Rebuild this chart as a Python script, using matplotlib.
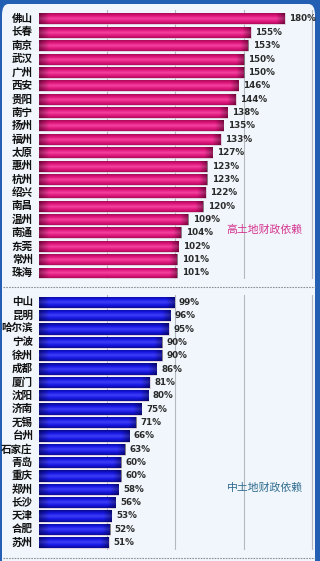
import matplotlib

matplotlib.use("Agg")
import matplotlib.pyplot as plt
import numpy as np
from matplotlib.colors import LinearSegmentedColormap
from matplotlib.patches import FancyBboxPatch

plt.rcParams["font.family"] = ["Noto Sans CJK SC", "DejaVu Sans"]

high_cities = ["佛山", "长春", "南京", "武汉", "广州", "西安", "贵阳", "南宁", "扬州", "福州",
               "太原", "惠州", "杭州", "绍兴", "南昌", "温州", "南通", "东莞", "常州", "珠海"]
high_values = [180, 155, 153, 150, 150, 146, 144, 138, 135, 133,
               127, 123, 123, 122, 120, 109, 104, 102, 101, 101]

mid_cities = ["中山", "昆明", "哈尔滨", "宁波", "徐州", "成都", "厦门", "沈阳", "济南", "无锡",
              "台州", "石家庄", "青岛", "重庆", "郑州", "长沙", "天津", "合肥", "苏州"]
mid_values = [99, 96, 95, 90, 90, 86, 81, 80, 75, 71,
              66, 63, 60, 60, 58, 56, 53, 52, 51]

high_label = "高土地财政依赖"
mid_label = "中土地财政依赖"

W, H = 320, 561
fig = plt.figure(figsize=(W / 100, H / 100), dpi=100)
fig.patch.set_facecolor("#2360b4")

# light inner panel with rounded top corners
panel = FancyBboxPatch((2 / W, -0.05), (315 - 2) / W, 1.05 - 4 / H,
                       boxstyle="round,pad=0,rounding_size=0.02",
                       transform=fig.transFigure, facecolor="#f0f6fb",
                       edgecolor="none", zorder=0)
fig.add_artist(panel)

pink_cmap = LinearSegmentedColormap.from_list(
    "pink", ["#a80b58", "#e0157c", "#f2449f", "#e3187f", "#b00c5c"])
blue_cmap = LinearSegmentedColormap.from_list(
    "blue", ["#0a0a90", "#1414e0", "#4040f8", "#1818e6", "#0c0c98"])


def px_axes(x0, y0, x1, y1):
    return fig.add_axes([x0 / W, 1 - y1 / H, (x1 - x0) / W, (y1 - y0) / H])


def draw_panel(ax, cities, values, cmap, n_slots, ytop, ybot, bar_h):
    ax.set_facecolor("none")
    for s in ax.spines.values():
        s.set_visible(False)
    ax.set_xticks([50, 100, 150, 200])
    ax.grid(axis="x", color="#b4b9be", linewidth=0.8)
    ax.set_axisbelow(True)
    ax.tick_params(length=0, labelbottom=False, labelleft=False)
    y = np.arange(len(values))
    bars = ax.barh(y, values, height=bar_h, color="none", edgecolor="#d8c0d0",
                   linewidth=0.5, zorder=2)
    vgrad = np.repeat(np.linspace(0, 1, 64).reshape(-1, 1), 2, axis=1)
    shade = np.zeros((1, 16, 4))
    shade[..., 3] = np.linspace(0.4, 0, 16)
    for b in bars:
        x0, y0 = b.get_x(), b.get_y()
        x1, y1 = x0 + b.get_width(), y0 + b.get_height()
        im = ax.imshow(vgrad, cmap=cmap, aspect="auto", zorder=2.5,
                       extent=(x0, x1, y1, y0))
        im.set_clip_path(b)
        # darker caps at both ends of each bar
        left = ax.imshow(shade, aspect="auto", zorder=2.6, extent=(x0, x0 + 8, y1, y0))
        left.set_clip_path(b)
        right = ax.imshow(shade[:, ::-1], aspect="auto", zorder=2.6, extent=(x1 - 6, x1, y1, y0))
        right.set_clip_path(b)
    for yi, (c, v) in enumerate(zip(cities, values)):
        ax.text(v + 3.5, yi, f"{v}%", va="center", ha="left", fontsize=6.3,
                fontweight="bold", color="#2a2a2a", family="DejaVu Sans")
        ax.text(-4.5, yi, c, va="center", ha="right", fontsize=7.6,
                fontweight="bold", color="#111111")
    ax.set_xlim(0, 201.5)
    ax.set_ylim(n_slots - 1 + ybot, -ytop)


ax1 = px_axes(39, 10, 314, 279)
draw_panel(ax1, high_cities, high_values, pink_cmap, 20, 0.67, 0.45, 0.82)
ax1.text(0.82, 0.182, high_label, transform=ax1.transAxes, ha="center", va="center",
         fontsize=7.8, color="#d6338f")

ax2 = px_axes(39, 295, 314, 550)
draw_panel(ax2, mid_cities, mid_values, blue_cmap, 19, 0.55, 0.55, 0.85)
ax2.text(0.82, 0.245, mid_label, transform=ax2.transAxes, ha="center", va="center",
         fontsize=7.8, color="#2f6b8f")

for yy in (287, 558):
    fig.add_artist(plt.Line2D([3 / W, 315 / W], [1 - yy / H, 1 - yy / H],
                              transform=fig.transFigure, color="#8a9096",
                              linewidth=0.8, linestyle=(0, (1.5, 1))))

fig.savefig("out.png", dpi=100, facecolor=fig.get_facecolor())
